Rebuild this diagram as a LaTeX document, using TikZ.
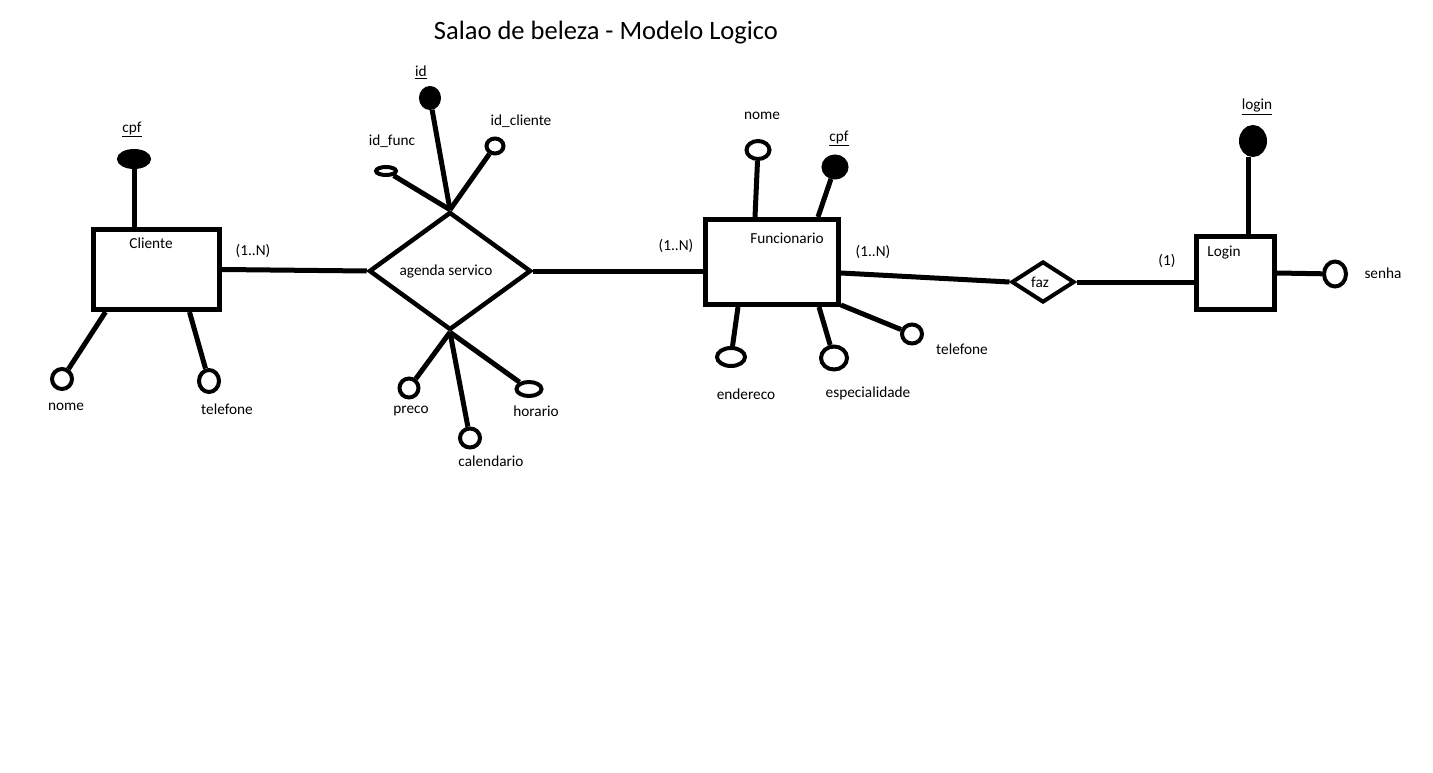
\documentclass[tikz,border=0pt]{standalone}
\usepackage{fontspec}
\setmainfont{Carlito}
\usetikzlibrary{shapes.geometric}
\begin{document}
\begin{tikzpicture}[x=1pt,y=-1pt,
  lbl/.style={inner sep=0pt,font=\fontsize{15.3}{18}\selectfont},
  ent/.style={draw,rectangle,line width=5pt,inner sep=0pt},
  rel/.style={draw,diamond,line width=4.5pt,inner sep=0pt,font=\fontsize{15.3}{18}\selectfont},
  att/.style={draw,ellipse,line width=4pt,inner sep=0pt},
  key/.style={draw,fill=black,ellipse,line width=4pt,inner sep=0pt},
  conn/.style={line width=5pt}]
\useasboundingbox (0,0) rectangle (1433,773);
\fill[white] (0,0) rectangle (1433,773);

\node[lbl,font=\fontsize{26.5}{30}\selectfont] (title) at (606,33) {Salao de beleza - Modelo Logico};

% Cliente
\node[ent,minimum width=126,minimum height=80] (cli) at (156.5,269.5) {};
\node[lbl] (clit) at (151,243) {Cliente};
\node[key,minimum width=30,minimum height=16] (cpf1) at (134,159) {};
\node[lbl] (cpf1t) at (132,129) {\underline{cpf}};
\node[att,minimum width=20,minimum height=20] (nome1) at (62,379) {};
\node[lbl] (nome1t) at (66,407) {nome};
\node[att,minimum width=20,minimum height=22] (tel1) at (209,381) {};
\node[lbl] (tel1t) at (227,409) {telefone};
\node[lbl] (c1) at (253,251) {(1..N)};

\draw[conn] (cpf1.south) -- ([xshift=-22.5]cli.north);
\draw[conn] ([xshift=14.5]cli.south west) -- (nome1);
\draw[conn] ([xshift=98.5]cli.south west) -- (tel1);

% agenda servico
\node[rel,minimum width=162,minimum height=118] (ag) at (450,271) {};
\node[lbl] (agt) at (446,272) {agenda servico};
\node[key,minimum width=18,minimum height=20] (idk) at (430,98) {};
\node[lbl] (idt) at (421,72) {\underline{id}};
\node[att,minimum width=17,minimum height=15] (idcli) at (495,146) {};
\node[lbl] (idclit) at (521,121) {id\_cliente};
\node[att,minimum width=20,minimum height=8] (idfun) at (386,171) {};
\node[lbl] (idfunt) at (392,141) {id\_func};
\node[att,minimum width=19,minimum height=19] (preco) at (409,388) {};
\node[lbl] (precot) at (411,411) {preco};
\node[att,minimum width=20,minimum height=19] (cal) at (470,438) {};
\node[lbl] (calt) at (491,461) {calendario};
\node[att,minimum width=25,minimum height=14] (hor) at (529,389) {};
\node[lbl] (hort) at (536,411) {horario};

\draw[conn] (cli.east) -- (ag.west);
\draw[conn] (idk) -- (ag.north);
\draw[conn] (idcli) -- (ag.north);
\draw[conn] (idfun) -- (ag.north);
\draw[conn] (ag.south) -- (preco);
\draw[conn] (ag.south) -- (cal);
\draw[conn] (ag.south) -- (hor);

% Funcionario
\node[ent,minimum width=133,minimum height=85] (fun) at (772,262) {};
\node[lbl] (funt) at (787,238) {Funcionario};
\node[lbl] (c2) at (676,246) {(1..N)};
\node[att,minimum width=23,minimum height=18] (nome2) at (758,150) {};
\node[lbl] (nome2t) at (762,116) {nome};
\node[key,minimum width=23,minimum height=21] (cpf2) at (835,167) {};
\node[lbl] (cpf2t) at (839,138) {\underline{cpf}};
\node[att,minimum width=28,minimum height=18] (end) at (731,357) {};
\node[lbl] (endt) at (746,394) {endereco};
\node[att,minimum width=26,minimum height=23] (esp) at (834,358) {};
\node[lbl] (espt) at (868,393) {especialidade};
\node[att,minimum width=20,minimum height=19] (tel2) at (912,334) {};
\node[lbl] (tel2t) at (962,349) {telefone};
\node[lbl] (c3) at (873,252) {(1..N)};

\draw[conn] (ag.east) -- (ag.east -| fun.west);
\draw[conn] (nome2) -- ([xshift=-17]fun.north);
\draw[conn] (cpf2) -- ([xshift=46]fun.north);
\draw[conn] ([xshift=-34]fun.south) -- (end);
\draw[conn] ([xshift=47]fun.south) -- (esp);
\draw[conn] ([yshift=2]fun.south east) -- (tel2);

% faz
\node[rel,minimum width=63,minimum height=41,line width=4pt] (faz) at (1043,282) {};
\node[lbl] (fazt) at (1040,282) {faz};
\draw[conn] ([yshift=-11]fun.east) -- (faz.west);

% Login
\node[ent,minimum width=78,minimum height=73] (log) at (1235.5,273) {};
\node[lbl] (logt) at (1224,253) {Login};
\node[lbl] (c4) at (1167,261) {(1)};
\node[key,minimum width=24,minimum height=28] (lk) at (1253,141) {};
\node[lbl] (lkt) at (1257,107) {\underline{login}};
\node[att,minimum width=22,minimum height=25] (senha) at (1335,274) {};
\node[lbl] (senhat) at (1383,273) {senha};

\draw[conn] (faz.east) -- (faz.east -| log.west);
\draw[conn] ([xshift=-5]lk.south) -- ([xshift=12.5]log.north);
\draw[conn] (log.east) -- (senha);
\end{tikzpicture}
\end{document}
